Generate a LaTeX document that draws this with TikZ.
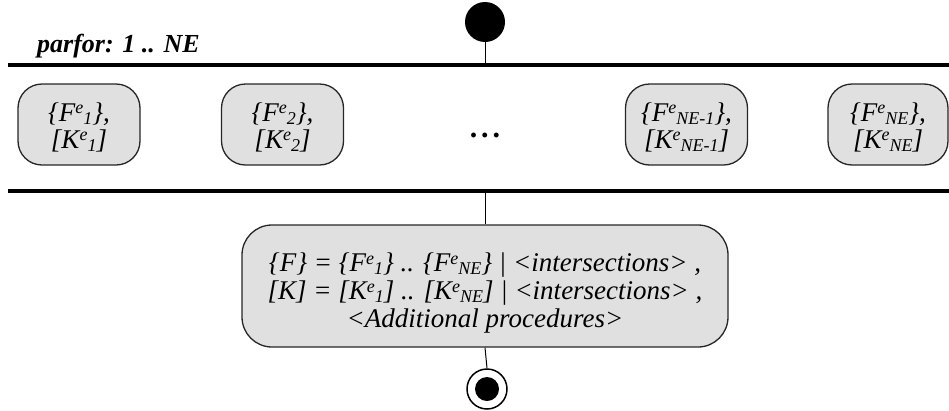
\documentclass[tikz,border=0pt]{standalone}
\usepackage{fontspec}
\setmainfont{Liberation Serif}
\definecolor{boxgray}{RGB}{224,224,224}
\newcommand{\supe}{\raisebox{7.5pt}{\fontsize{18}{18}\selectfont e}}
\newcommand{\subx}[1]{\raisebox{-3pt}{\fontsize{18}{18}\selectfont #1}}
\newcommand{\Fe}[1]{\{F\supe\subx{#1}\}}
\newcommand{\Ke}[1]{{[}K\supe\subx{#1}]}
\newcommand{\lowered}[2]{\raisebox{-#1}[\height][\depth]{\begin{tabular}{@{}c@{}}#2\end{tabular}}}
\begin{document}
\begin{tikzpicture}[x=1pt,y=-1pt,
  act/.style={draw=black!85, line width=1.3pt, fill=boxgray, rounded corners=24pt,
    minimum width=122pt, minimum height=81pt, inner sep=0pt,
    font=\itshape\fontsize{27}{27}\selectfont},
  bigact/.style={act, rounded corners=30pt, minimum width=486pt, minimum height=122pt,
    font=\itshape\fontsize{27}{28}\selectfont},
  bar/.style={fill=black, inner sep=0pt, minimum width=941pt, minimum height=3.5pt},
  flow/.style={draw=black, line width=1pt}]
\useasboundingbox (0,0) rectangle (949,410);
\node[circle, fill=black, minimum size=40pt, inner sep=0pt] (start) at (485,22) {};
\node[anchor=base west, inner sep=0pt, font=\bfseries\itshape\fontsize{26}{28}\selectfont] (lbl) at (37,52) {parfor: 1 .. NE};
\node[bar] (fork) at (478.5,65) {};
\node[bar] (join) at (478.5,191) {};
\node[act] (b1) at (79,124.5) {\lowered{5pt}{\Fe{1},\\\Ke{1}}};
\node[act] (b2) at (282.5,124.5) {\lowered{5pt}{\Fe{2},\\\Ke{2}}};
\node[anchor=base, font=\bfseries\fontsize{30}{30}\selectfont, inner sep=0pt] (dots) at (485,137) {.\hspace{4pt}.\hspace{4pt}.};
\node[act] (b3) at (686.5,124.5) {\lowered{5pt}{\Fe{NE-1},\\\Ke{NE-1}}};
\node[act, minimum width=120pt] (b4) at (888,124.5) {\lowered{5pt}{\Fe{NE},\\\Ke{NE}}};
\node[bigact] (main) at (485,286) {\lowered{8pt}{\{F\} = \Fe{1} .. \Fe{NE} \textbar{} \textless intersections\textgreater{} ,\\
  {[}K] = \Ke{1} .. \Ke{NE} \textbar{} \textless intersections\textgreater{} ,\\
  \textless Additional procedures\textgreater}};
\node[circle, draw=black, line width=1.5pt, minimum size=40pt, inner sep=0pt] (end) at (487,389) {};
\node[circle, fill=black, minimum size=24pt, inner sep=0pt] (endin) at (end.center) {};
\draw[flow] (start) -- (start |- fork.north);
\draw[flow] (main.north |- join.south) -- (main.north);
\draw[flow] (main.south) -- (end.north);
\end{tikzpicture}
\end{document}
